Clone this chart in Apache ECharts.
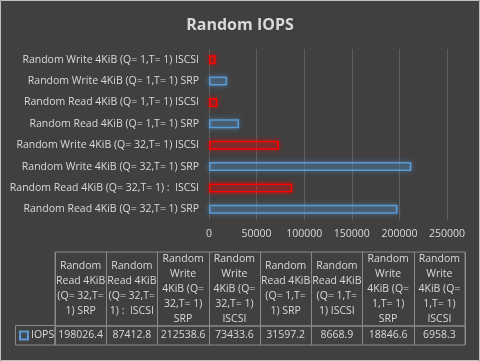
<!DOCTYPE html>
<html>
<head>
<meta charset="utf-8">
<script src="https://cdn.jsdelivr.net/npm/echarts@6/dist/echarts.min.js"></script>
<style>
html,body{margin:0;padding:0;background:#404040;}
#chart{width:480px;height:361px;}
</style>
</head>
<body>
<div id="chart"></div>
<script>
const categories = [
  "Random Read 4KiB (Q= 32,T= 1) SRP",
  "Random Read 4KiB (Q= 32,T= 1) :  ISCSI",
  "Random Write 4KiB (Q= 32,T= 1) SRP",
  "Random Write 4KiB (Q= 32,T= 1) ISCSI",
  "Random Read 4KiB (Q= 1,T= 1) SRP",
  "Random Read 4KiB (Q= 1,T= 1) ISCSI",
  "Random Write 4KiB (Q= 1,T= 1) SRP",
  "Random Write 4KiB (Q= 1,T= 1) ISCSI"
];
const headerLabels = [
  "Random\nRead 4KiB\n(Q= 32,T=\n1) SRP",
  "Random\nRead 4KiB\n(Q= 32,T=\n1) :  ISCSI",
  "Random\nWrite\n4KiB (Q=\n32,T= 1)\nSRP",
  "Random\nWrite\n4KiB (Q=\n32,T= 1)\nISCSI",
  "Random\nRead 4KiB\n(Q= 1,T=\n1) SRP",
  "Random\nRead 4KiB\n(Q= 1,T=\n1) ISCSI",
  "Random\nWrite\n4KiB (Q=\n1,T= 1)\nSRP",
  "Random\nWrite\n4KiB (Q=\n1,T= 1)\nISCSI"
];
const iops = [198026.4, 87412.8, 212538.6, 73433.6, 31597.2, 8668.9, 18846.6, 6958.3];
const seriesName = "IOPS";
const xTicks = {min: 0, max: 250000, interval: 50000};

const FONT = "'Open Sans', sans-serif";
const TXT = "#d9d9d9";
const LINE = "#8a8a8a";

const blueStyle = {color: 'rgba(91,155,213,0.12)', borderColor: '#5b9bd5', borderWidth: 1.5, shadowColor: 'rgba(91,155,213,0.9)', shadowBlur: 5};
const redStyle = {color: 'rgba(255,0,0,0.12)', borderColor: '#ff0000', borderWidth: 1.5, shadowColor: 'rgba(255,0,0,0.9)', shadowBlur: 5};

const barData = iops.map((v, i) => ({
  value: v,
  itemStyle: categories[i].indexOf('ISCSI') >= 0 ? redStyle : blueStyle
}));

const chart = echarts.init(document.getElementById('chart'), null, {renderer: 'canvas'});
chart.setOption({
  backgroundColor: '#404040',
  animation: false,
  textStyle: {fontFamily: FONT},
  title: {
    text: 'Random IOPS', left: 'center', top: 12,
    textStyle: {color: TXT, fontSize: 16, fontWeight: 'bold', fontFamily: FONT}
  },
  legend: {
    data: [seriesName], left: 19, top: 330, padding: 0, itemGap: 0,
    icon: 'rect', itemWidth: 8, itemHeight: 8,
    textStyle: {color: TXT, fontSize: 10.5, fontFamily: FONT, padding: [0, 0, 0, -2]}
  },
  grid: [
    {left: 209, right: 33, top: 49, height: 171},
    {left: 55, right: 15, top: 252, height: 74, show: true, borderColor: LINE, borderWidth: 1},
    {left: 55, right: 15, top: 326, height: 19, show: true, borderColor: LINE, borderWidth: 1}
  ],
  xAxis: [
    {
      gridIndex: 0, type: 'value', min: xTicks.min, max: xTicks.max, interval: xTicks.interval,
      axisLine: {show: false}, axisTick: {show: false},
      splitLine: {lineStyle: {color: '#5e5e5e'}},
      axisLabel: {color: TXT, fontSize: 10.5, margin: 9, fontFamily: FONT, formatter: v => String(v)}
    },
    {
      gridIndex: 1, type: 'category', data: headerLabels, position: 'top',
      axisLine: {show: false}, axisTick: {show: false},
      splitLine: {show: true, interval: 0, lineStyle: {color: LINE}},
      axisLabel: {inside: true, interval: 0, margin: 37, verticalAlign: 'middle', lineHeight: 15,
        color: TXT, fontSize: 10.5, fontFamily: FONT, align: 'center'}
    },
    {
      gridIndex: 2, type: 'category', data: iops.map(v => String(v)), position: 'bottom',
      axisLine: {show: false}, axisTick: {show: false},
      splitLine: {show: true, interval: 0, lineStyle: {color: LINE}},
      axisLabel: {inside: true, interval: 0, margin: 10, verticalAlign: 'middle',
        color: TXT, fontSize: 10.5, fontFamily: FONT}
    }
  ],
  yAxis: [
    {
      gridIndex: 0, type: 'category', data: categories,
      axisLine: {show: false}, axisTick: {show: false},
      axisLabel: {color: TXT, fontSize: 10.5, margin: 10, interval: 0, fontFamily: FONT}
    },
    {gridIndex: 1, type: 'value', show: false, min: 0, max: 1},
    {gridIndex: 2, type: 'value', show: false, min: 0, max: 1}
  ],
  series: [{
    name: seriesName, type: 'bar', xAxisIndex: 0, yAxisIndex: 0,
    barWidth: 9, data: barData,
    itemStyle: {color: 'rgba(91,155,213,0.12)', borderColor: '#5b9bd5', borderWidth: 1.5}
  }],
  graphic: [
    {type: 'rect', shape: {x: 15.5, y: 325.5, width: 39.5, height: 19.5}, style: {fill: 'none', stroke: LINE, lineWidth: 1}, silent: true},
    {type: 'rect', shape: {x: 0.5, y: 0.5, width: 479, height: 360}, style: {fill: 'none', stroke: '#bfbfbf', lineWidth: 1}, silent: true}
  ]
});
</script>
</body>
</html>
